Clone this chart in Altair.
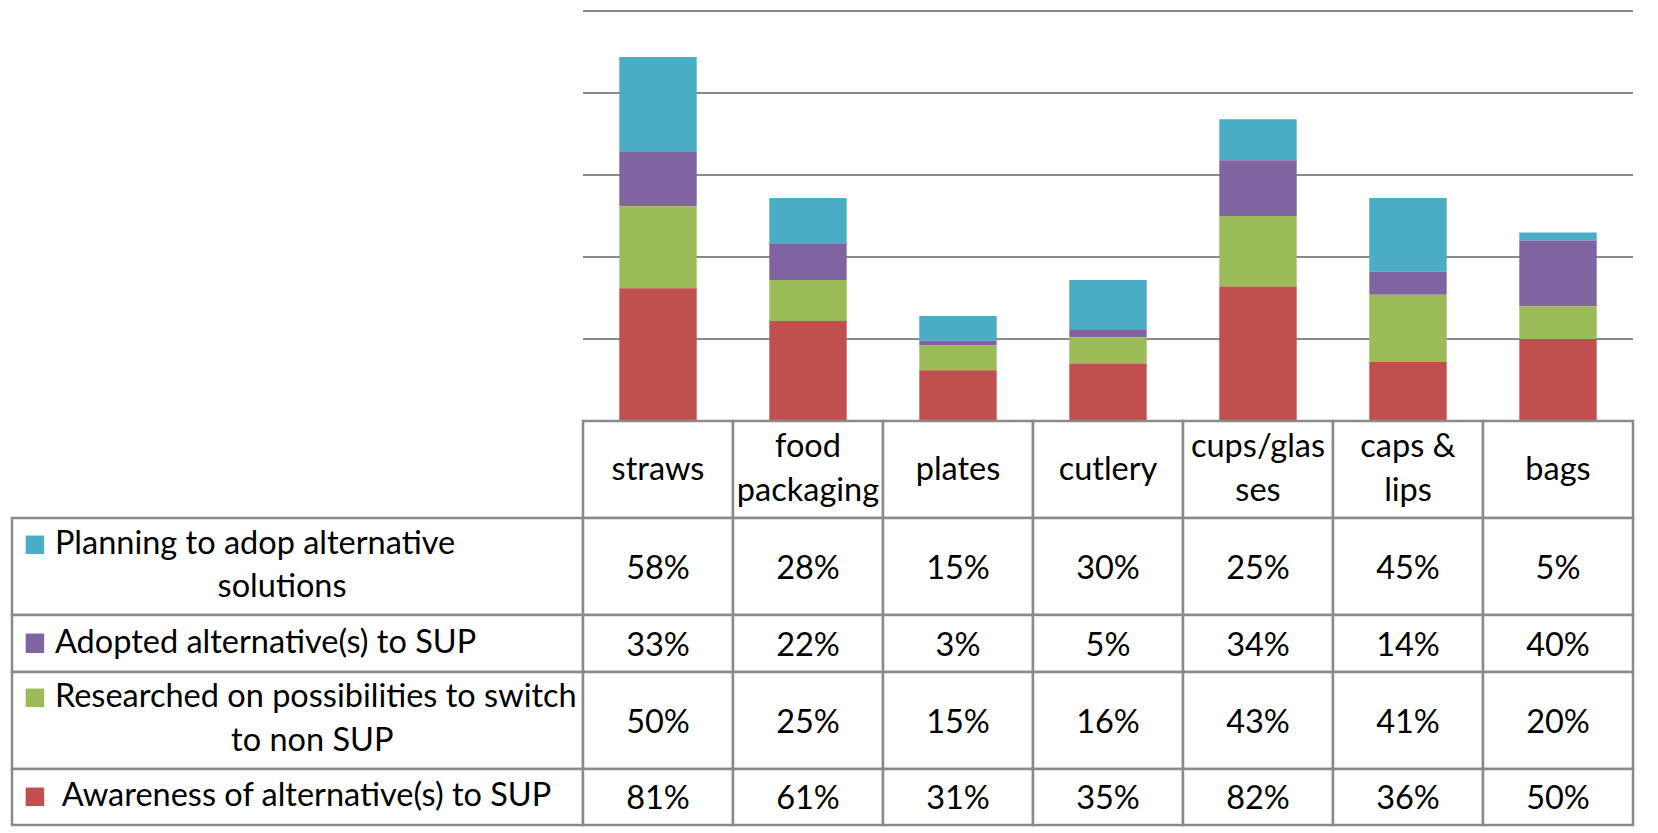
import altair as alt
import pandas as pd

# ---------------- data ----------------
categories = ["straws", "food packaging", "plates", "cutlery", "cups/glasses", "caps & lips", "bags"]
header_labels = ["straws", "food\npackaging", "plates", "cutlery", "cups/glas\nses", "caps &\nlips", "bags"]

series = [
    "Planning to adop alternative solutions",
    "Adopted alternative(s) to SUP",
    "Researched on possibilities to switch to non SUP",
    "Awareness of alternative(s) to SUP",
]
legend_lines = [
    ["Planning to adop alternative", "solutions"],
    ["Adopted alternative(s) to SUP"],
    ["Researched on possibilities to switch", "to non SUP"],
    ["Awareness of alternative(s) to SUP"],
]
planning = [58, 28, 15, 30, 25, 45, 5]
adopted = [33, 22, 3, 5, 34, 14, 40]
researched = [50, 25, 15, 16, 43, 41, 20]
awareness = [81, 61, 31, 35, 82, 36, 50]
series_values = [planning, adopted, researched, awareness]
stack_rank = [3, 2, 1, 0]  # awareness at the bottom
colors = ["#4BACC6", "#8064A2", "#9BBB59", "#C0504D"]
y_ticks = [0, 50, 100, 150, 200, 250]

# ---------------- layout / style ----------------
s = 0.975
W_LEG = round(586 * s)
STEP = 150
W_DATA = STEP * 7
W_TOT = W_LEG + W_DATA
H_TOP = round(420 * s)
ROW_H = [round(99 * s), round(99 * s), round(58 * s), round(99 * s), round(57 * s)]
FONT = "Lato"
FS = 32.5
LH = 45 * s
BORDER = "#8A8A8A"
BW = 2.5

color_scale = alt.Scale(domain=series, range=colors)
xcat = alt.Scale(domain=categories, range=[W_LEG, W_TOT], paddingInner=0, paddingOuter=0)
xbar = alt.Scale(domain=categories, range=[W_LEG, W_TOT], paddingInner=0.484, paddingOuter=0.242)
yscale = alt.Scale(domain=[0, 250], nice=False)

rows = []
for si, name in enumerate(series):
    for ci, cat in enumerate(categories):
        rows.append({"series": name, "category": cat,
                     "value": series_values[si][ci], "rank": stack_rank[si]})
df = pd.DataFrame(rows)

# ---------------- bar chart ----------------
grid = alt.Chart(pd.DataFrame({"tick": y_ticks})).mark_rule(
    color=BORDER, strokeWidth=2.2
).encode(
    y=alt.Y("tick:Q", scale=yscale, axis=None),
    x=alt.value(W_LEG), x2=alt.value(W_TOT),
)
bars = alt.Chart(df).mark_bar().encode(
    x=alt.X("category:N", sort=categories, scale=xbar, axis=None),
    y=alt.Y("value:Q", stack="zero", scale=yscale, axis=None),
    color=alt.Color("series:N", scale=color_scale, legend=None),
    order=alt.Order("rank:Q", sort="ascending"),
)
top = alt.layer(grid, bars).properties(width=W_TOT, height=H_TOP)

# ---------------- header row ----------------
hdf = pd.DataFrame({"category": categories, "label": header_labels})
hdf_one = hdf[~hdf["label"].str.contains("\n")]
hdf_two = hdf[hdf["label"].str.contains("\n")]
hcells = alt.Chart(hdf).mark_rect(fill="white", stroke=BORDER, strokeWidth=BW).encode(
    x=alt.X("category:N", sort=categories, scale=xcat, axis=None)
)
htext1 = alt.Chart(hdf_one).mark_text(font=FONT, fontSize=FS, baseline="alphabetic",
                                      color="black").encode(
    x=alt.X("category:N", sort=categories, scale=xcat, axis=None),
    y=alt.value(60 * s),
    text="label:N",
)
htext2 = alt.Chart(hdf_two).mark_text(font=FONT, fontSize=FS, lineBreak="\n", lineHeight=LH,
                                      baseline="alphabetic", color="black").encode(
    x=alt.X("category:N", sort=categories, scale=xcat, axis=None),
    y=alt.value(37 * s),
    text="label:N",
)
header = alt.layer(hcells, htext1, htext2).properties(width=W_TOT, height=ROW_H[0])

# ---------------- data rows ----------------
# per row legend layout: (square top, square bottom, line1 baseline, line1 x, line2 baseline, line2 centre x)
leg_layout = [
    (18, 37, 37, 44, 81, 277),
    (19, 39, 39, 44, None, None),
    (17, 36, 36, 44, 81, 308),
    (19, 38, 38, 51, None, None),
]

row_charts = []
for si, name in enumerate(series):
    h = ROW_H[si + 1]
    sq_t, sq_b, b1, x1, b2, x2 = leg_layout[si]
    ldf = pd.DataFrame({"series": [name], "line1": [legend_lines[si][0]],
                        "line2": [legend_lines[si][1] if len(legend_lines[si]) > 1 else ""]})
    lbase = alt.Chart(ldf)
    cell = lbase.mark_rect(fill="white", stroke=BORDER, strokeWidth=BW).encode(
        x=alt.value(0), x2=alt.value(W_LEG), y=alt.value(0), y2=alt.value(h))
    key = lbase.mark_rect().encode(
        x=alt.value(14 * s), x2=alt.value(33 * s), y=alt.value(sq_t * s), y2=alt.value(sq_b * s),
        color=alt.Color("series:N", scale=color_scale, legend=None))
    t1 = lbase.mark_text(font=FONT, fontSize=FS, align="left", baseline="alphabetic",
                         color="black").encode(
        x=alt.value(x1 * s), y=alt.value(b1 * s), text="line1:N")
    layers = [cell, key, t1]
    if b2 is not None:
        t2 = lbase.mark_text(font=FONT, fontSize=FS, align="center", baseline="alphabetic",
                             color="black").encode(
            x=alt.value(x2 * s), y=alt.value(b2 * s), text="line2:N")
        layers.append(t2)

    vdf = pd.DataFrame({"category": categories,
                        "label": [f"{v}%" for v in series_values[si]]})
    vcells = alt.Chart(vdf).mark_rect(fill="white", stroke=BORDER, strokeWidth=BW).encode(
        x=alt.X("category:N", sort=categories, scale=xcat, axis=None))
    vtext = alt.Chart(vdf).mark_text(font=FONT, fontSize=FS, baseline="middle", dy=2,
                                     color="black").encode(
        x=alt.X("category:N", sort=categories, scale=xcat, axis=None),
        text="label:N")
    layers += [vcells, vtext]
    row_charts.append(alt.layer(*layers).properties(width=W_TOT, height=h))

chart = alt.vconcat(top, header, *row_charts, spacing=0).properties(
    padding={"left": 2, "top": 1, "right": 2, "bottom": 1},
    bounds="flush",
).configure_view(stroke=None).resolve_scale(color="shared")

chart.save("out.html", embed_options={"renderer": "svg", "actions": False})
